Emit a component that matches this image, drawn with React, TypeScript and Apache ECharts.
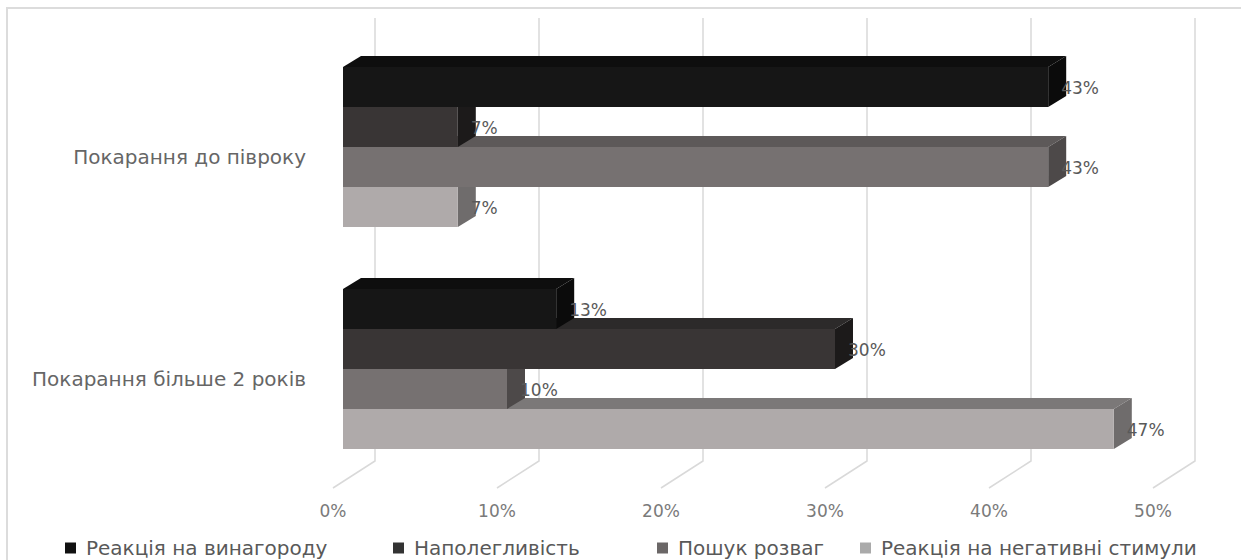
import React, { useEffect, useRef } from "react";
import * as echarts from "echarts";

const categories = ["Покарання до півроку", "Покарання більше 2 років"];
const seriesNames = [
  "Реакція на винагороду",
  "Наполегливість",
  "Пошук розваг",
  "Реакція на негативні стимули",
];
const rewardValues = [43, 13];
const persistenceValues = [7, 30];
const funValues = [43, 10];
const negativeValues = [7, 47];
const seriesValues = [rewardValues, persistenceValues, funValues, negativeValues];
const tickValues = [0, 10, 20, 30, 40, 50];

const FONT = "DejaVu Sans";
const faces = [
  { front: "#161616", top: "#0e0e0e", side: "#0b0b0b", legend: "#111111" },
  { front: "#393535", top: "#2c2a2a", side: "#1c1a1a", legend: "#333333" },
  { front: "#767171", top: "#5d5959", side: "#4d4949", legend: "#6b6767" },
  { front: "#afaaaa", top: "#7b7878", side: "#6f6c6c", legend: "#aaaaaa" },
];
const legendLefts = [65, 393, 657, 860];

function barRenderer(idx: number) {
  const f = faces[idx];
  return (params: any, api: any) => {
    const val = api.value(0);
    const cat = api.value(1);
    const end = api.coord([val, cat]);
    const start = api.coord([0, cat]);
    const band = api.size([0, 1])[1];
    const h = band * 0.18;
    const y0 = end[1] - 2 * h + idx * h;
    const x0 = start[0];
    const x1 = end[0];
    const dx = 18;
    const dy = -11;
    return {
      type: "group",
      children: [
        {
          type: "polygon",
          shape: { points: [[x0, y0], [x0 + dx, y0 + dy], [x1 + dx, y0 + dy], [x1, y0]] },
          style: { fill: f.top },
        },
        {
          type: "polygon",
          shape: { points: [[x1, y0], [x1 + dx, y0 + dy], [x1 + dx, y0 + h + dy], [x1, y0 + h]] },
          style: { fill: f.side },
        },
        {
          type: "rect",
          shape: { x: x0, y: y0, width: x1 - x0, height: h },
          style: { fill: f.front },
        },
        {
          type: "text",
          x: x1 + 13,
          y: y0 + h / 2 + 1,
          style: {
            text: `${val}%`,
            fill: "#595959",
            fontSize: 17,
            fontFamily: FONT,
            align: "left",
            verticalAlign: "middle",
          },
        },
      ],
    };
  };
}

function gridRenderer(params: any, api: any) {
  const x = api.coord([api.value(0), 0])[0];
  const cs = params.coordSys;
  const bottom = cs.y + cs.height - 19;
  return {
    type: "polyline",
    shape: { points: [[x + 32, 18], [x + 32, bottom], [x - 10, bottom + 27]] },
    style: { stroke: "#d9d9d9", lineWidth: 1.5, fill: "none" },
  };
}

export default function App() {
  const ref = useRef<HTMLDivElement>(null);
  useEffect(() => {
    if (!ref.current) return;
    const chart = echarts.init(ref.current, null, { renderer: "svg" });
    const option: any = {
      animation: false,
      backgroundColor: "#ffffff",
      graphic: [
        {
          type: "rect",
          silent: true,
          shape: { x: 7, y: 8, width: 1400, height: 700 },
          style: { fill: "none", stroke: "#dcdcdc", lineWidth: 2 },
        },
      ],
      grid: { left: 343, right: 78, top: 36, height: 444 },
      xAxis: {
        type: "value",
        min: 0,
        max: 50,
        interval: 10,
        axisLine: { show: false },
        axisTick: { show: false },
        splitLine: { show: false },
        axisLabel: {
          formatter: (v: number) => `${v}%`,
          color: "#7a7a7a",
          fontSize: 17,
          fontFamily: FONT,
          margin: 22,
          padding: [0, 20, 0, 0],
        },
      },
      yAxis: {
        type: "category",
        inverse: true,
        data: categories,
        axisLine: { show: false },
        axisTick: { show: false },
        splitLine: { show: false },
        axisLabel: {
          color: "#666666",
          fontSize: 20,
          fontFamily: FONT,
          margin: 37,
          verticalAlign: "top",
          lineHeight: 20,
        },
      },
      legend: seriesNames.map((name, i) => ({
        data: [{ name, itemStyle: { color: faces[i].legend } }],
        left: legendLefts[i],
        top: 538,
        padding: 0,
        icon: "rect",
        itemWidth: 11,
        itemHeight: 11,
        selectedMode: false,
        textStyle: { color: "#595959", fontSize: 20, fontFamily: FONT, padding: [0, 0, 0, 5] },
      })),
      series: [
        {
          type: "custom",
          name: "grid",
          z: 1,
          silent: true,
          renderItem: gridRenderer,
          data: tickValues.map((v) => [v, 0]),
          encode: { x: 0, y: 1 },
        },
        ...seriesNames.map((name, i) => ({
          type: "custom",
          name,
          z: 10 - i,
          itemStyle: { color: faces[i].legend },
          renderItem: barRenderer(i),
          data: seriesValues[i].map((v, c) => [v, c]),
          encode: { x: 0, y: 1 },
        })),
      ],
    };
    chart.setOption(option);
    return () => chart.dispose();
  }, []);
  return (
    <div
      ref={ref}
      style={{ position: "absolute", left: 0, top: 0, width: 1241, height: 560 }}
    />
  );
}
